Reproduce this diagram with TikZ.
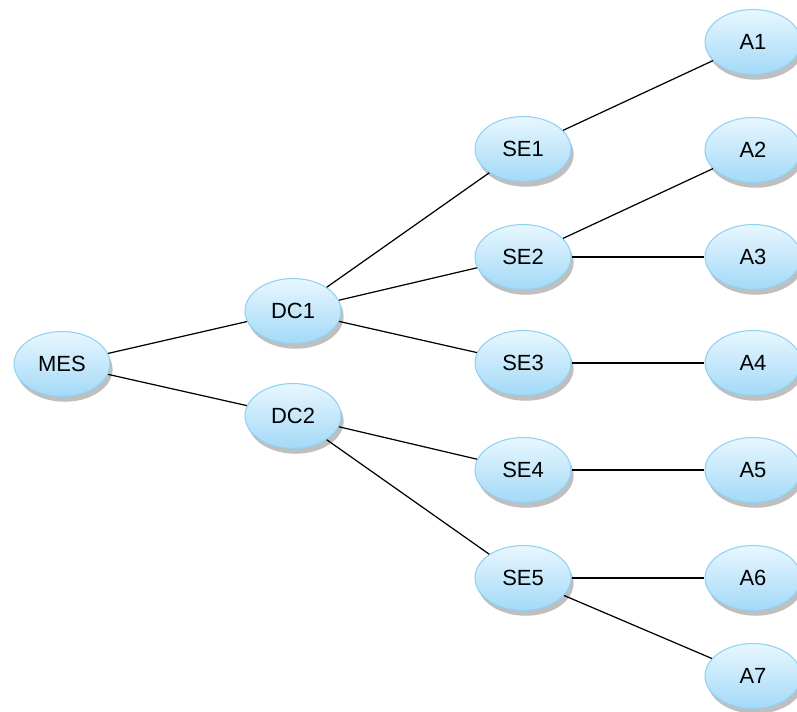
\documentclass[tikz,border=0pt]{standalone}
\usepackage{fontspec}
\setmainfont{Liberation Sans}
\usepackage{tikz}
\usetikzlibrary{shapes.geometric,shadows}
\definecolor{colortop}{HTML}{E8F7FF}
\definecolor{colorbot}{HTML}{A3D9F7}
\definecolor{colorrim}{HTML}{8FD2F2}
\tikzset{
  unit/.style={ellipse, draw=colorrim, line width=0.6pt,
    top color=colortop, bottom color=colorbot,
    drop shadow={shadow xshift=1.5pt, shadow yshift=-3pt, opacity=0.5},
    minimum width=1.92cm, minimum height=1.3cm, inner sep=0pt,
    font=\fontsize{12.5}{14}\selectfont},
  link/.style={black, line width=0.7pt}
}

\begin{document}
\begin{tikzpicture}[x=0.02cm, y=-0.02cm]
\useasboundingbox (0,0) rectangle (797,712);

\node[unit](mes) at (62,364) {MES};

\node[unit](dc1) at (293,311) {DC1};
\node[unit](dc2) at (293,416) {DC2};

\node[unit](se1) at (523,149) {SE1};
\node[unit](se2) at (523,257) {SE2};
\node[unit](se3) at (523,363) {SE3};
\node[unit](se4) at (523,470) {SE4};
\node[unit](se5) at (523,578) {SE5};

\node[unit](a1) at (753,42) {A1};
\node[unit](a2) at (753,150) {A2};
\node[unit](a3) at (753,257) {A3};
\node[unit](a4) at (753,363) {A4};
\node[unit](a5) at (753,470) {A5};
\node[unit](a6) at (753,578) {A6};
\node[unit](a7) at (753,676) {A7};

\draw[link] (mes) -- (dc1);
\draw[link] (mes) -- (dc2);

\draw[link] (dc1) -- (se1);
\draw[link] (dc1) -- (se2);
\draw[link] (dc1) -- (se3);
\draw[link] (dc2) -- (se4);
\draw[link] (dc2) -- (se5);

\draw[link] (se1) -- (a1);
\draw[link] (se2) -- (a2);
\draw[link] (se2) -- (a3);
\draw[link] (se3) -- (a4);
\draw[link] (se4) -- (a5);
\draw[link] (se5) -- (a6);
\draw[link] (se5) -- (a7);
\end{tikzpicture}
\end{document}
